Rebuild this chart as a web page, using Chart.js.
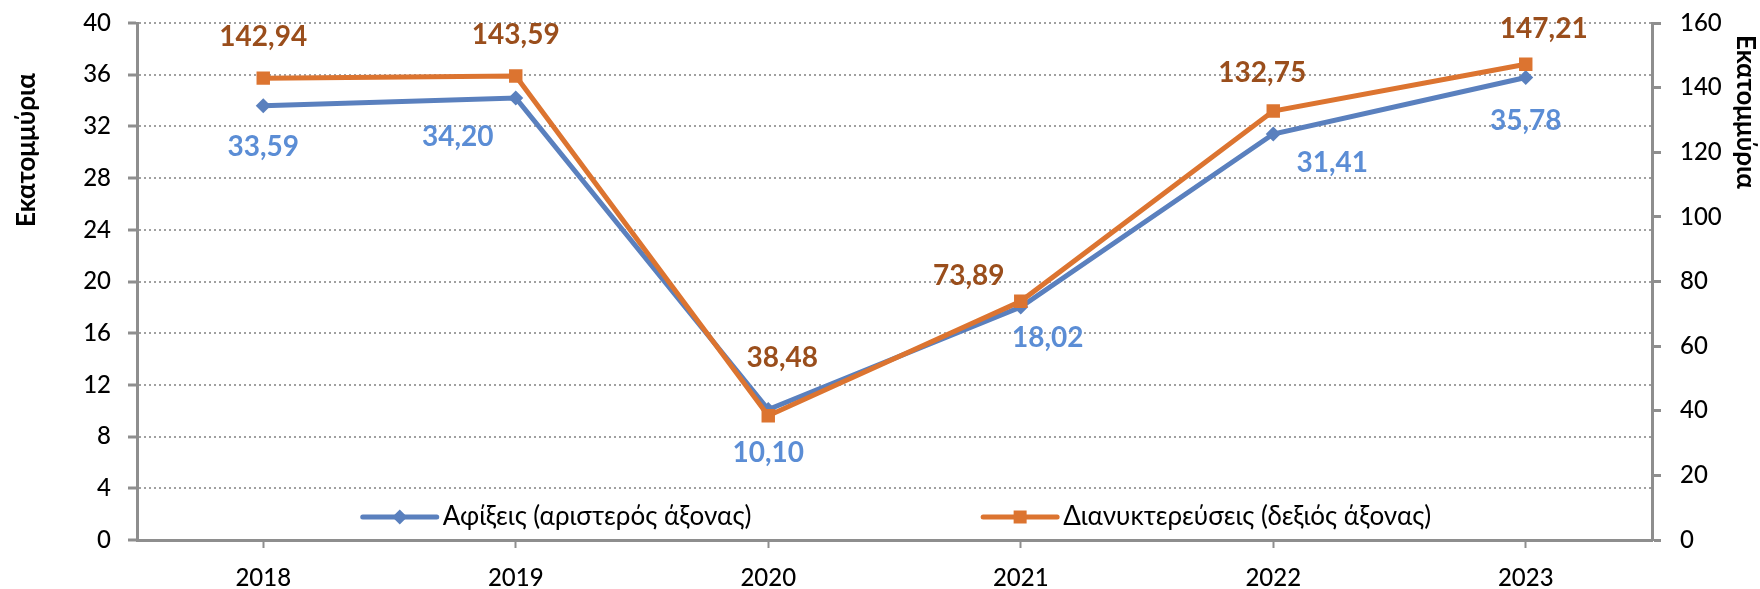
<!DOCTYPE html>
<html>
<head>
<meta charset="utf-8">
<script src="https://cdn.jsdelivr.net/npm/chart.js@4.4.1/dist/chart.umd.min.js"></script>
<style>
  html, body { margin: 0; padding: 0; background: #ffffff; }
  #wrap { width: 1760px; height: 589px; }
</style>
</head>
<body>
<div id="wrap"><canvas id="c" width="1760" height="589"></canvas></div>
<script>
// ---- data ----
const years = ['2018', '2019', '2020', '2021', '2022', '2023'];
const arrivals = [33.59, 34.20, 10.10, 18.02, 31.41, 35.78];
const overnights = [142.94, 143.59, 38.48, 73.89, 132.75, 147.21];
const leftAxis = { min: 0, max: 40, step: 4 };
const rightAxis = { min: 0, max: 160, step: 20 };
const seriesNames = ['Αφίξεις (αριστερός άξονας)', 'Διανυκτερεύσεις (δεξιός άξονας)'];
const axisTitle = 'Εκατομμύρια';

// ---- style ----
const FONT = 'Lato, "Noto Sans", sans-serif';
const BLUE = '#5A80BE';
const ORANGE = '#DC7430';
const BLUE_LABEL = '#5B8DD5';
const ORANGE_LABEL = '#9A4E1C';
const AXIS = '#8E8E8E';
const GRID = '#A0A0A0';
// label offsets (px) from each point
const arrivalsLabelOffsets = [[0, 41], [-58, 39], [0, 44], [27, 31], [59, 29], [0, 43]];
const overnightsLabelOffsets = [[0, -41], [0, -41], [14, -58], [-52, -25], [-11, -38], [18, -35]];

const fmt = v => v.toFixed(2).replace('.', ',');

const overlayPlugin = {
  id: 'overlay',
  afterDatasetsDraw(chart) {
    const ctx = chart.ctx;
    ctx.save();
    ctx.font = 'bold 28px ' + FONT;
    ctx.textAlign = 'center';
    ctx.textBaseline = 'middle';
    const sets = [
      { idx: 0, vals: arrivals, off: arrivalsLabelOffsets, color: BLUE_LABEL },
      { idx: 1, vals: overnights, off: overnightsLabelOffsets, color: ORANGE_LABEL }
    ];
    sets.forEach(s => {
      const meta = chart.getDatasetMeta(s.idx);
      ctx.fillStyle = s.color;
      meta.data.forEach((pt, i) => {
        ctx.fillText(fmt(s.vals[i]), pt.x + s.off[i][0], pt.y + s.off[i][1]);
      });
    });
    ctx.restore();
  },
  afterDraw(chart) {
    const ctx = chart.ctx;
    const ca = chart.chartArea;
    const W = ca.right - ca.left;
    // legend (inside plot, bottom)
    const ly = ca.bottom - 23;
    const items = [
      { ds: chart.data.datasets[0], x0: ca.left + W * 0.149, style: 'diamond' },
      { ds: chart.data.datasets[1], x0: ca.left + W * 0.5585, style: 'square' }
    ];
    ctx.save();
    items.forEach(it => {
      const x0 = it.x0, x1 = x0 + 74, xm = (x0 + x1) / 2;
      ctx.strokeStyle = it.ds.borderColor;
      ctx.fillStyle = it.ds.borderColor;
      ctx.lineWidth = 5;
      ctx.lineCap = 'round';
      ctx.beginPath(); ctx.moveTo(x0, ly); ctx.lineTo(x1, ly); ctx.stroke();
      ctx.beginPath();
      if (it.style === 'diamond') {
        const r = 7.5;
        ctx.moveTo(xm - r, ly); ctx.lineTo(xm, ly - r); ctx.lineTo(xm + r, ly); ctx.lineTo(xm, ly + r);
      } else {
        const h = 6.5;
        ctx.rect(xm - h, ly - h, 2 * h, 2 * h);
      }
      ctx.closePath(); ctx.fill();
      ctx.fillStyle = '#000000';
      ctx.font = '26px ' + FONT;
      ctx.textAlign = 'left';
      ctx.textBaseline = 'middle';
      ctx.fillText(it.ds.label, x1 + 6, ly);
    });
    // axis titles
    ctx.font = 'bold 26px ' + FONT;
    ctx.fillStyle = '#000000';
    ctx.textAlign = 'center';
    ctx.textBaseline = 'middle';
    ctx.save();
    ctx.translate(27, 150);
    ctx.rotate(-Math.PI / 2);
    ctx.fillText(axisTitle, 0, 0);
    ctx.restore();
    ctx.save();
    ctx.translate(1745, 112);
    ctx.rotate(Math.PI / 2);
    ctx.fillText(axisTitle, 0, 0);
    ctx.restore();
    ctx.restore();
  }
};

const fitV = w => s => { s.width = w; s.paddingTop = 0; s.paddingBottom = 0; };

new Chart(document.getElementById('c'), {
  type: 'line',
  data: {
    labels: years,
    datasets: [
      {
        label: seriesNames[0],
        data: arrivals,
        yAxisID: 'y',
        borderColor: BLUE,
        backgroundColor: BLUE,
        borderWidth: 5,
        pointStyle: 'rectRot',
        pointRadius: 7.5,
        pointBorderWidth: 0,
        pointBackgroundColor: BLUE,
        tension: 0,
        order: 1
      },
      {
        label: seriesNames[1],
        data: overnights,
        yAxisID: 'y1',
        borderColor: ORANGE,
        backgroundColor: ORANGE,
        borderWidth: 5,
        pointStyle: 'rect',
        pointRadius: 9.5,
        pointBorderWidth: 0,
        pointBackgroundColor: ORANGE,
        tension: 0,
        order: 0
      }
    ]
  },
  options: {
    responsive: false,
    animation: false,
    devicePixelRatio: 1,
    layout: { padding: { top: 23, left: 0, right: 0, bottom: 0 } },
    plugins: { legend: { display: false }, tooltip: { enabled: false } },
    scales: {
      x: {
        type: 'category',
        offset: true,
        afterFit: s => { s.height = 49; s.paddingLeft = 0; s.paddingRight = 0; },
        grid: {
          display: true, drawOnChartArea: false, drawTicks: true,
          tickLength: 8, tickWidth: 2, tickColor: AXIS, offset: false
        },
        border: { display: true, color: AXIS, width: 3 },
        ticks: { color: '#000000', font: { family: FONT, size: 24, weight: '500' }, padding: 16, maxRotation: 0 }
      },
      y: {
        position: 'left',
        min: leftAxis.min, max: leftAxis.max,
        afterFit: fitV(137),
        ticks: { stepSize: leftAxis.step, color: '#000000', font: { family: FONT, size: 24, weight: '500' }, padding: 17 },
        grid: {
          color: ctx => (ctx.tick && ctx.tick.value === 0) ? 'rgba(0,0,0,0)' : GRID,
          lineWidth: 2,
          drawTicks: true, tickLength: 9, tickWidth: 3, tickColor: AXIS, tickBorderDash: [0, 0]
        },
        border: { display: true, color: AXIS, width: 3, dash: [2, 3] }
      },
      y1: {
        position: 'right',
        min: rightAxis.min, max: rightAxis.max,
        afterFit: fitV(108),
        ticks: { stepSize: rightAxis.step, color: '#000000', font: { family: FONT, size: 24, weight: '500' }, padding: 19 },
        grid: {
          drawOnChartArea: false, drawTicks: true, tickLength: 9, tickWidth: 3, tickColor: AXIS
        },
        border: { display: true, color: AXIS, width: 3 }
      }
    }
  },
  plugins: [overlayPlugin]
});
</script>
</body>
</html>
